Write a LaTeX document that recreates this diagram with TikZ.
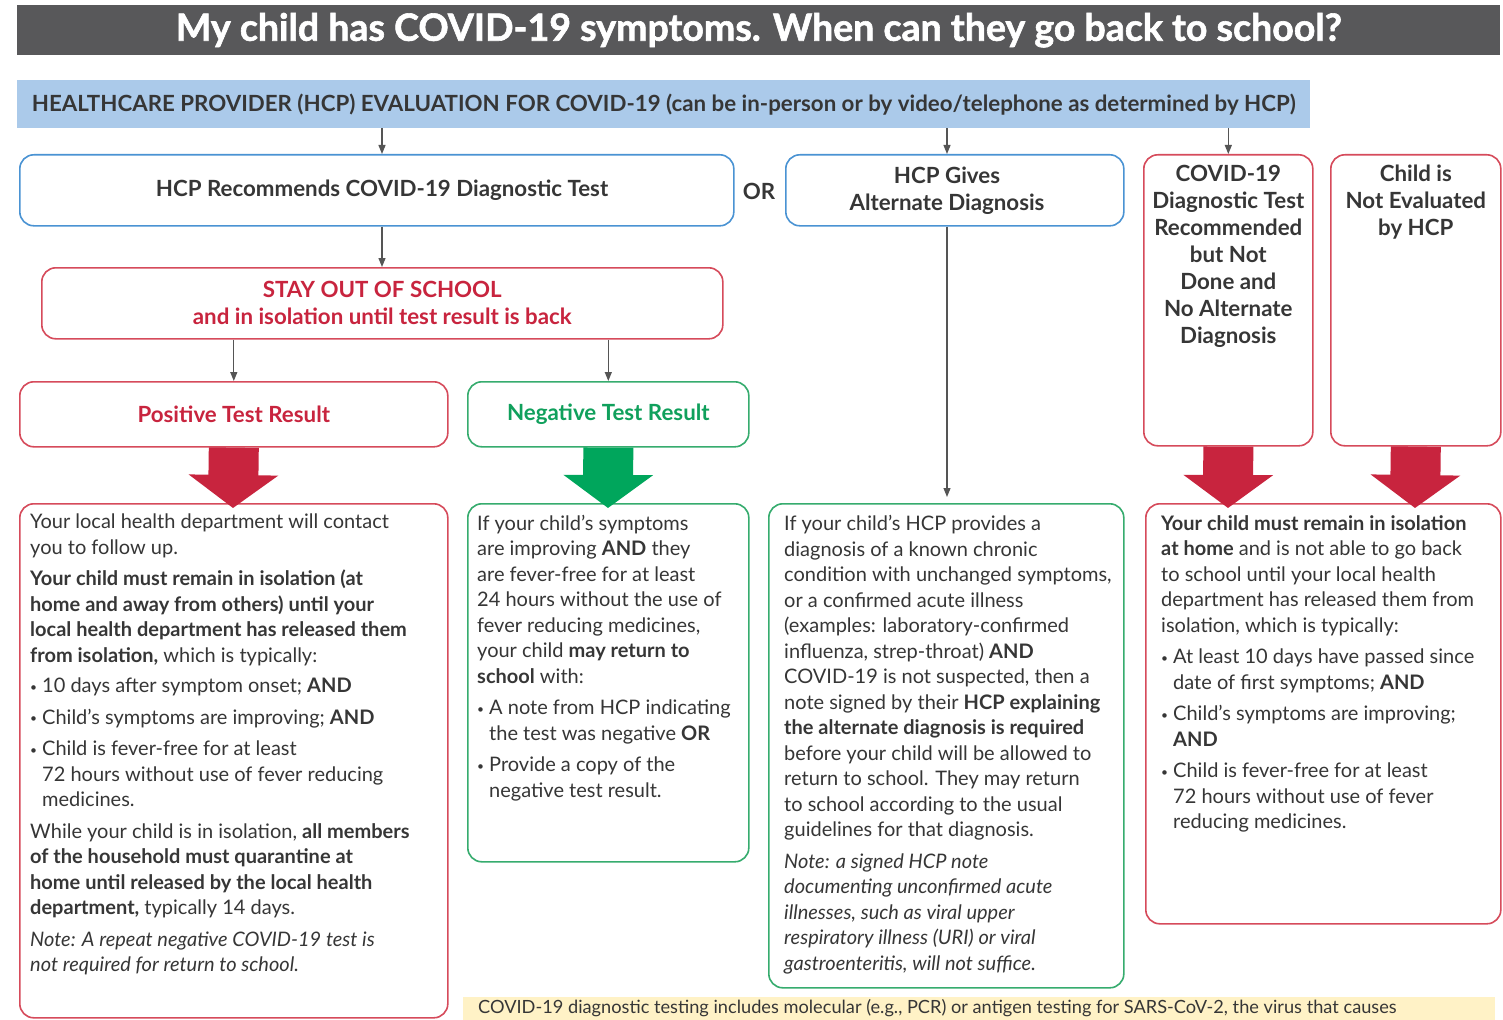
\documentclass[tikz,border=0pt]{standalone}
\usepackage{fontspec}
\setmainfont{Lato}
\newfontfamily\titlefont{Lato}[BoldFeatures={FakeBold=1.6}]
\usetikzlibrary{arrows.meta}
\definecolor{titlegray}{HTML}{58585A}
\definecolor{hcpbar}{HTML}{ABCAEA}
\definecolor{bordblue}{HTML}{4A93D3}
\definecolor{bordred}{HTML}{D64B5B}
\definecolor{redtext}{HTML}{C8243E}
\definecolor{bordgreen}{HTML}{36AC6E}
\definecolor{greentext}{HTML}{10A05C}
\definecolor{arrowgreen}{HTML}{00A65C}
\definecolor{textdark}{HTML}{363636}
\definecolor{conngray}{HTML}{555555}
\definecolor{notebg}{HTML}{FFF2C6}
\newcommand{\bodyf}{\fontsize{20}{25.5}\selectfont}
\newcommand{\headf}{\fontsize{22.3}{27}\selectfont\bfseries}
\newcommand{\bul}{\makebox[12pt][l]{\raisebox{0.15ex}{\fontsize{12}{12}\selectfont •}}}
\newcommand{\ind}{\hspace*{12pt}}
\tikzset{
  box/.style={draw, rounded corners=14pt, line width=1.6pt, fill=white, anchor=north west, inner sep=0pt},
  bluebox/.style={box, draw=bordblue},
  redbox/.style={box, draw=bordred},
  greenbox/.style={box, draw=bordgreen},
  conn/.style={draw=conngray, line width=1.2pt, -{Triangle[length=9pt,width=7pt]}},
  bigarrow/.style={line width=50pt, -{Triangle[length=33pt,width=88pt]}},
  bodytext/.style={anchor=north west, inner sep=0pt, align=left, text=textdark, font=\bodyf},
  headtext/.style={inner sep=0pt, align=center, text=textdark, font=\headf},
}
\begin{document}
\begin{tikzpicture}[x=1pt,y=-1pt]
\useasboundingbox (0,0) rectangle (1503,1019);
\fill[white] (0,0) rectangle (1503,1019);

% title and evaluation bar
\node[fill=titlegray, minimum width=1483, minimum height=50, anchor=north west, inner sep=0pt,
      text=white, font=\fontsize{37.5}{42}\selectfont\titlefont\bfseries] (title) at (17,5)
      {My child has COVID-19 symptoms. When can they go back to school?};
\node[fill=hcpbar, minimum width=1293, minimum height=48, anchor=north west, inner sep=0pt,
      text=textdark, font=\fontsize{22.3}{26}\selectfont\bfseries] (hcp) at (17,80)
      {HEALTHCARE PROVIDER (HCP) EVALUATION FOR COVID-19 (can be in-person or by video/telephone as determined by HCP)};

% second row
\coordinate (cA) at (382,0);
\coordinate (cB) at (947,0);
\node[bluebox, minimum width=714, minimum height=71] (A) at (19,154) {};
\node[headtext] (At) at (A.center -| cA) {HCP Recommends COVID-19 Diagnostic Test};
\node[headtext] (or) at (759,191) {OR};
\node[bluebox, minimum width=338, minimum height=71] (B) at (785,154) {};
\node[headtext] (Bt) at (B.center -| cB) {HCP Gives\\Alternate Diagnosis};
\node[redbox, minimum width=169, minimum height=291] (C) at (1143,154) {};
\node[headtext, anchor=north] (Ct) at ([yshift=-11pt]C.north)
  {COVID-19\\Diagnostic Test\\Recommended\\but Not\\Done and\\No Alternate\\Diagnosis};
\node[redbox, minimum width=170, minimum height=291] (D) at (1330,154) {};
\node[headtext, anchor=north] (Dt) at ([yshift=-11pt]D.north) {Child is\\Not Evaluated\\by HCP};

\node[redbox, minimum width=681, minimum height=71, headtext, text=redtext] (S) at (41,267)
  {STAY OUT OF SCHOOL\\and in isolation until test result is back};
\node[redbox, minimum width=428, minimum height=65, headtext, text=redtext] (P) at (19,381) {Positive Test Result};
\node[greenbox, minimum width=281, minimum height=65, headtext, text=greentext] (N) at (467,381) {Negative Test Result};

% bottom boxes
\node[redbox, minimum width=428, minimum height=514] (E1) at (19,503) {};
\node[greenbox, minimum width=281, minimum height=358] (E2) at (467,503) {};
\node[greenbox, minimum width=355, minimum height=484] (E3) at (768,503) {};
\node[redbox, minimum width=355, minimum height=420] (E4) at (1145,503) {};

\node[fill=notebg, minimum width=1032, minimum height=30, anchor=north west, inner sep=0pt] (note) at (463,997) {};
\node[anchor=base west, inner sep=0pt, text=textdark, font=\fontsize{18.2}{20}\selectfont] (notet) at (478,1013)
  {COVID-19 diagnostic testing includes molecular (e.g., PCR) or antigen testing for SARS-CoV-2, the virus that causes};

% connectors
\coordinate (e3top) at (947,497);
\draw[conn] (hcp.south -| cA) -- (A.north -| cA);
\draw[conn] (hcp.south -| cB) -- (B.north -| cB);
\draw[conn] (hcp.south -| C.north) -- (C.north);
\draw[conn] (A.south -| cA) -- (S.north -| cA);
\draw[conn] (S.south -| P.north) -- (P.north);
\draw[conn] (S.south -| N.north) -- (N.north);
\draw[conn] (B.south -| cB) -- (e3top);

% big arrows
\coordinate (tP) at (233,508);
\coordinate (tN) at (608,508);
\coordinate (tC) at (1228,508);
\coordinate (tD) at (1415,508);
\draw[bigarrow, redtext] (P.south) -- (tP);
\draw[bigarrow, arrowgreen] (N.south) -- (tN);
\draw[bigarrow, redtext] (C.south) -- (tC);
\draw[bigarrow, redtext] (D.south) -- (tD);

% body texts
\node[bodytext] (E1t) at (30,514) {%
Your local health department will contact\\
you to follow up.\\[6pt]
\textbf{Your child must remain in isolation (at}\\
\textbf{home and away from others) until your}\\
\textbf{local health department has released them}\\
\textbf{from isolation,} which is typically:\\[5pt]
\bul 10 days after symptom onset; \textbf{AND}\\[6pt]
\bul Child’s symptoms are improving; \textbf{AND}\\[6pt]
\bul Child is fever-free for at least\\
\ind 72 hours without use of fever reducing\\
\ind medicines.\\[6pt]
While your child is in isolation, \textbf{all members}\\
\textbf{of the household must quarantine at}\\
\textbf{home until released by the local health}\\
\textbf{department,} typically 14 days.\\[6pt]
\textit{Note: A repeat negative COVID-19 test is}\\
\textit{not required for return to school.}};

\node[bodytext] (E2t) at (477,515) {%
If your child’s symptoms\\
are improving \textbf{AND} they\\
are fever-free for at least\\
24 hours without the use of\\
fever reducing medicines,\\
your child \textbf{may return to}\\
\textbf{school} with:\\[6pt]
\bul A note from HCP indicating\\
\ind the test was negative \textbf{OR}\\[6pt]
\bul Provide a copy of the\\
\ind negative test result.};

\node[bodytext] (E3t) at (784,515) {%
If your child’s HCP provides a\\
diagnosis of a known chronic\\
condition with unchanged symptoms,\\
or a confirmed acute illness\\
(examples: laboratory-confirmed\\
influenza, strep-throat) \textbf{AND}\\
COVID-19 is not suspected, then a\\
note signed by their \textbf{HCP explaining}\\
\textbf{the alternate diagnosis is required}\\
before your child will be allowed to\\
return to school. They may return\\
to school according to the usual\\
guidelines for that diagnosis.\\[6pt]
\textit{Note: a signed HCP note}\\
\textit{documenting unconfirmed acute}\\
\textit{illnesses, such as viral upper}\\
\textit{respiratory illness (URI) or viral}\\
\textit{gastroenteritis, will not suffice.}};

\node[bodytext] (E4t) at (1161,515) {%
\textbf{Your child must remain in isolation}\\
\textbf{at home} and is not able to go back\\
to school until your local health\\
department has released them from\\
isolation, which is typically:\\[6pt]
\bul At least 10 days have passed since\\
\ind date of first symptoms; \textbf{AND}\\[6pt]
\bul Child’s symptoms are improving;\\
\ind \textbf{AND}\\[6pt]
\bul Child is fever-free for at least\\
\ind 72 hours without use of fever\\
\ind reducing medicines.};
\end{tikzpicture}
\end{document}
